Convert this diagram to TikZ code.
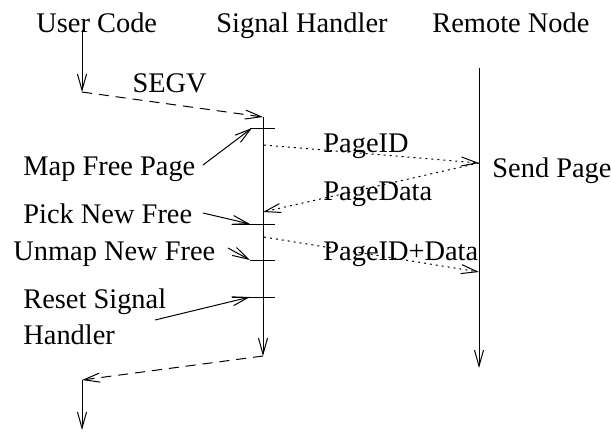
\documentclass[tikz,border=0pt]{standalone}
\usepackage{fontspec}
\setmainfont{Liberation Serif}
\usetikzlibrary{arrows.meta,positioning}
\tikzset{
  msg/.style={draw, line width=0.5pt, -{Straight Barb[length=8pt,width=4.5pt]}},
  sig/.style={msg, dash pattern=on 5pt off 3.5pt},
  pkt/.style={msg, dash pattern=on 1pt off 2pt},
  lbl/.style={anchor=base west, inner sep=0pt, font=\fontsize{14.2}{18}\selectfont},
  stamp/.style={draw, line width=0.5pt},
}
\begin{document}
\begin{tikzpicture}[x=0.5pt,y=-0.5pt]
  \useasboundingbox (0,0) rectangle (611,441);

  % headers
  \node[lbl] (user)   at (36,32)  {User Code};
  \node[lbl] (signal) at (216,32) {Signal Handler};
  \node[lbl] (remote) at (432,32) {Remote Node};

  % life lines
  \coordinate (u0) at (82,30);   \coordinate (u1) at (82,92);
  \coordinate (u2) at (82,380);  \coordinate (u3) at (82,430);
  \coordinate (s0) at (263,117); \coordinate (s9) at (263,356);
  \coordinate (r0) at (479,68);  \coordinate (r9) at (479,368);

  \draw[msg] (u0) -- (u1); % user code runs
  \draw[sig] (u1) -- (s0) node[lbl] (segv) at (132,92) {SEGV}; % fault
  \draw[msg] (s0) -- (s9); % handler
  \draw[msg] (r0) -- (r9); % remote node
  \draw[sig] (s9) -- (u2); % return
  \draw[msg] (u2) -- (u3); % user code again

  % steps on the handler
  \foreach \y/\l in {128/250, 224/232, 260/250, 297/232}
    \draw[stamp] (\l,\y) -- (275,\y);

  % messages
  \coordinate (p0) at (264,145); \coordinate (p1) at (479,163);
  \coordinate (d1) at (263,212);
  \coordinate (q0) at (264,237); \coordinate (q1) at (479,272);
  \draw[pkt] (p0) -- (p1);
  \draw[pkt] (p1) -- (d1);
  \draw[pkt] (q0) -- (q1);
  \node[lbl] (pageid)   at (323,152) {PageID};
  \node[lbl] (pagedata) at (323,200) {PageData};
  \node[lbl] (pidata)   at (323,260) {PageID+Data};
  \node[lbl] (send)     at (492,177) {Send Page};

  % step labels
  \node[lbl] (mapfree)  at (23,175) {Map Free Page};
  \node[lbl] (pick)     at (23,223) {Pick New Free};
  \node[lbl] (unmap)    at (13,260) {Unmap New Free};
  \node[lbl] (reset)    at (23,308) {Reset Signal};
  \node[lbl] (handler)  at (23,344) {Handler};

  \coordinate (m0) at (203,165); \coordinate (m1) at (252,128);
  \coordinate (k0) at (203,213); \coordinate (k1) at (250,224);
  \coordinate (n0) at (228,248); \coordinate (n1) at (250,260);
  \coordinate (e0) at (155,320); \coordinate (e1) at (250,297);
  \draw[msg] (m0) -- (m1);
  \draw[msg] (k0) -- (k1);
  \draw[msg] (n0) -- (n1);
  \draw[msg] (e0) -- (e1);
\end{tikzpicture}
\end{document}
